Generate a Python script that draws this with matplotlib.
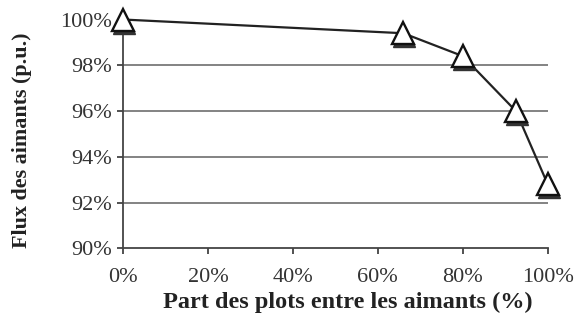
import matplotlib
matplotlib.use("Agg")
import matplotlib.pyplot as plt
import matplotlib.transforms as mtransforms
from matplotlib.ticker import FuncFormatter

part_plots = [0, 66, 80, 92.5, 100]
flux = [100.0, 99.4, 98.4, 96.0, 92.8]
x_ticks = [0, 20, 40, 60, 80, 100]
y_ticks = [90, 92, 94, 96, 98, 100]

plt.rcParams['font.family'] = ['Liberation Serif', 'DejaVu Serif']

fig = plt.figure(figsize=(5.76, 3.23), dpi=100)
ax = fig.add_axes([0.2135, 0.2307, 0.951 - 0.2135, 0.9396 - 0.2307])
ax.set_xlim(0, 100)
ax.set_ylim(90, 100)

for y in y_ticks[1:-1]:
    ax.axhline(y, color='#7a7a7a', lw=1.3, zorder=1)

ax.plot(part_plots, flux, color='#222222', lw=1.6, zorder=3, clip_on=False)
shadow = ax.transData + mtransforms.ScaledTranslation(1/100, -3/100, fig.dpi_scale_trans)
ax.plot(part_plots, flux, linestyle='none', marker='^', ms=16, mfc='#333333', mec='#333333',
        transform=shadow, zorder=4, clip_on=False)
ax.plot(part_plots, flux, linestyle='none', marker='^', ms=16, mfc='white', mec='#111111',
        mew=1.7, zorder=5, clip_on=False)

ax.set_xticks(x_ticks)
ax.set_yticks(y_ticks)
pct = FuncFormatter(lambda v, p: f"{v:.0f}%")
ax.xaxis.set_major_formatter(pct)
ax.yaxis.set_major_formatter(pct)
ax.tick_params(axis='both', labelsize=16, colors='#333333', length=4, width=1.2,
               direction='out', pad=4)
ax.tick_params(axis='x', pad=10)

for s in ['top', 'right']:
    ax.spines[s].set_visible(False)
for s in ['left', 'bottom']:
    ax.spines[s].set_color('#444444')
    ax.spines[s].set_linewidth(1.3)

ax.set_xlabel("Part des plots entre les aimants (%)", fontsize=17.5, fontweight='bold',
              color='#222222', va='center')
ax.xaxis.set_label_coords(0.53, -0.235)
ax.set_ylabel("Flux des aimants (p.u.)", fontsize=15.8, fontweight='bold',
              color='#222222', va='center')
ax.yaxis.set_label_coords(-0.238, 0.474)

fig.savefig("out.png", dpi=100)
